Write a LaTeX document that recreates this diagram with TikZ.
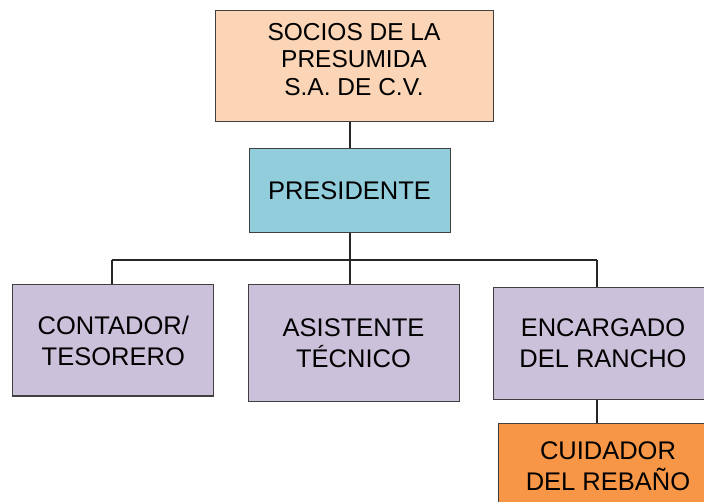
\documentclass[tikz,border=0pt]{standalone}
\usepackage{fontspec}
\setmainfont{Liberation Sans}
\definecolor{peach}{HTML}{FBD5B5}
\definecolor{presblue}{HTML}{92CDDC}
\definecolor{lav}{HTML}{CCC1DA}
\definecolor{orng}{HTML}{F79646}
\definecolor{edge}{HTML}{404040}
\begin{document}
\begin{tikzpicture}[x=1pt,y=-1pt,
  box/.style={draw=edge, line width=1pt, rectangle, align=center, inner sep=0pt,
    font=\fontsize{25.5}{31}\selectfont},
  txt/.style={align=center, inner sep=0pt},
  conn/.style={draw=black!85, line width=1.1pt}]
\useasboundingbox (0,0) rectangle (704,502);
\clip (0,0) rectangle (704,502);
\node[box, fill=peach, minimum width=278, minimum height=111] (socios) at (354,66.5) {};
\node[txt, font=\fontsize{24.5}{27.5}\selectfont] (sociostxt) at (354,59.5) {SOCIOS DE LA\\PRESUMIDA\\S.A. DE C.V.};
\node[box, fill=presblue, minimum width=201, minimum height=84, font=\fontsize{25.5}{31}\selectfont] (pres) at (349.5,191) {PRESIDENTE};
\node[box, fill=lav, minimum width=201, minimum height=111] (cont) at (113.3,340.5) {CONTADOR/\\TESORERO};
\node[box, fill=lav, minimum width=211, minimum height=116] (asis) at (353.5,343) {ASISTENTE\\TÉCNICO};
\node[box, fill=lav, minimum width=220, minimum height=111] (enc) at (603,343.5) {ENCARGADO\\DEL RANCHO};
\node[box, fill=orng, minimum width=220, minimum height=86] (cuid) at (608,466) {CUIDADOR\\DEL REBAÑO};
\coordinate (bl) at (112,260);
\coordinate (bm) at (350,260);
\coordinate (br) at (597,260);
\draw[conn] (bm |- socios.south) -- (bm |- pres.north);
\draw[conn] (bm |- pres.south) -- (bm |- asis.north);
\draw[conn] (bl) -- (br);
\draw[conn] (bl) -- (bl |- cont.north);
\draw[conn] (br) -- (br |- enc.north);
\draw[conn] (br |- enc.south) -- (br |- cuid.north);
\end{tikzpicture}
\end{document}
